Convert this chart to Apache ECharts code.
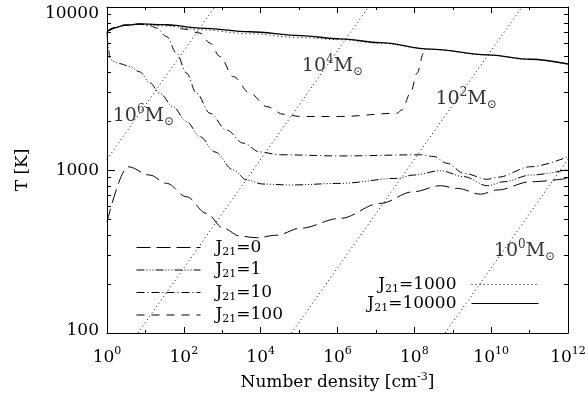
<!DOCTYPE html>
<html>
<head>
<meta charset="utf-8">
<script src="https://cdn.jsdelivr.net/npm/echarts@6/dist/echarts.min.js"></script>
<style>
html, body { margin: 0; padding: 0; background: #fff; }
#chart { width: 588px; height: 397px; }
</style>
</head>
<body>
<div id="chart"></div>
<script>
// [number density (cm^-3), T (K)]
const j0 = [
  [1, 479], [3.53, 1047], [13, 931], [35.5, 828], [118, 685], [390, 542],
  [1070, 439], [2900, 393], [7900, 384], [2.6e4, 398], [1.07e5, 439],
  [1.18e6, 505], [1.29e7, 624], [9.5e7, 736], [4.8e8, 801], [1.32e9, 771],
  [5.3e9, 711], [1.45e10, 754], [1.07e11, 847], [1e12, 889],
];
const j1 = [
  [1, 7080], [1.07, 5860], [1.18, 4880], [1.44, 4630], [2.15, 4490], [3.9, 4320],
  [7.1, 4000], [13, 3430], [23.7, 2960], [52, 2450], [118, 1980], [263, 1600],
  [646, 1290], [1950, 1000], [4370, 868], [1.15e4, 820], [5.9e4, 809],
  [1.18e6, 828], [3.55e7, 889], [9.5e7, 931], [4.8e8, 990], [1.95e9, 910],
  [7.9e9, 801], [2.15e10, 847], [1.07e11, 931], [1e12, 1009],
];
const j10 = [
  [1, 7080], [2.9, 7730], [7.1, 7850], [13, 7670], [19.5, 7430], [35.5, 6590],
  [64.6, 5210], [117, 3930], [214, 2960], [479, 2230], [1290, 1760],
  [3550, 1460], [9550, 1290], [3.24e4, 1240], [1.18e6, 1220], [1.45e8, 1240],
  [3.2e8, 1210], [7.1e8, 1100], [1.95e9, 955], [7.9e9, 877], [1.45e10, 902],
  [1.07e11, 1047], [1e12, 1208],
];
const j100 = [
  [1, 7080], [2.9, 7730], [7.1, 7850], [43, 7730], [96, 7330], [263, 6920],
  [479, 6010], [871, 4970], [1950, 3740], [5250, 2960], [1.44e4, 2450],
  [3.9e4, 2200], [1.07e5, 2130], [1.18e6, 2130], [3.55e7, 2230], [4.8e7, 2340],
  [7.9e7, 2960], [1.18e8, 3930], [1.74e8, 5210], [2.36e8, 5520],
];
const j1000 = [
  [1, 7080], [2.9, 7700], [7.1, 7800], [35.5, 7650], [263, 7250], [5250, 6850],
  [1.07e5, 6480], [1.18e6, 6300], [1.29e7, 6000], [2.6e8, 5500], [7.9e9, 5080],
  [1.07e11, 4770], [1e12, 4460],
];
const j10000 = [
  [1, 7080], [1.59, 7460], [2.9, 7730], [7.1, 7870], [35.5, 7790], [263, 7430],
  [5250, 7050], [1.07e5, 6670], [1.18e6, 6380], [1.29e7, 6040], [2.6e8, 5520],
  [7.9e9, 5090], [1.07e11, 4780], [1e12, 4470],
];

// constant Jeans-mass lines (end points)
const m6 = [[1, 1161], [638, 10000]];
const m4 = [[6.37, 100], [6.37e6, 10000]];
const m2 = [[6.35e4, 100], [6.35e10, 10000]];
const m0 = [[6.34e8, 100], [1e12, 1164]];
const massTags = [
  ['6', 1.41, 2148], ['4', 1.18e5, 4335], ['2', 3.55e8, 2723], ['0', 1.175e10, 317],
];

const xMajor = [1, 1e2, 1e4, 1e6, 1e8, 1e10, 1e12];
const xMinor = [1e1, 1e3, 1e5, 1e7, 1e9, 1e11];
const yMajor = [100, 1000, 10000];
const yMinor = [200, 300, 400, 500, 600, 700, 800, 900, 2000, 3000, 4000, 5000, 6000, 7000, 8000, 9000];

const FONT = 'DejaVu Serif';
const BLACK = '#000';

const chart = echarts.init(document.getElementById('chart'), null, { renderer: 'canvas' });

function tickAxis(pos, min, max, ticks, len, showLine) {
  return {
    type: 'log', logBase: 10, position: pos, min, max,
    axisLine: { show: showLine, onZero: false, lineStyle: { color: BLACK, width: 1 } },
    axisTick: { show: true, inside: true, length: len, customValues: ticks, lineStyle: { color: BLACK, width: 1 } },
    axisLabel: { show: false },
    splitLine: { show: false },
  };
}

const bottomX = tickAxis('bottom', 1, 1e12, xMajor, 6, true);
bottomX.axisLabel = {
  show: true,
  customValues: xMajor,
  margin: 13,
  formatter: (v) => '{b|10}{s|' + Math.round(Math.log10(v)) + '}',
  rich: {
    b: { fontFamily: FONT, fontSize: 17, color: BLACK, lineHeight: 24 },
    s: { fontFamily: FONT, fontSize: 11, color: BLACK, verticalAlign: 'top', lineHeight: 12 },
  },
};
bottomX.name = '{b|Number density [cm}{s|-3}{b|]}';
bottomX.nameLocation = 'middle';
bottomX.nameGap = 33;
bottomX.nameTextStyle = {
  rich: {
    b: { fontFamily: FONT, fontSize: 17, color: BLACK, lineHeight: 22 },
    s: { fontFamily: FONT, fontSize: 11, color: BLACK, verticalAlign: 'top', lineHeight: 12 },
  },
};

const leftY = tickAxis('left', 100, 10000, yMajor, 8, true);
leftY.axisLabel = {
  show: true,
  customValues: yMajor,
  margin: 8,
  formatter: (v) => {
    const r = Math.round(v);
    if (r >= 10000) return '{t|10000}';
    if (r >= 1000) return '{m|1000}';
    return '{l|100}';
  },
  rich: {
    t: { fontFamily: FONT, fontSize: 17, color: BLACK, padding: [14, 0, 0, 0] },
    m: { fontFamily: FONT, fontSize: 17, color: BLACK, padding: [2, 0, 0, 0] },
    l: { fontFamily: FONT, fontSize: 17, color: BLACK, padding: [0, 0, 4, 0] },
  },
};
leftY.name = 'T [K]';
leftY.nameLocation = 'middle';
leftY.nameRotate = 90;
leftY.nameGap = 76;
leftY.nameTextStyle = { fontFamily: FONT, fontSize: 17, color: BLACK };

function lineSeries(name, data, type, width) {
  return {
    name, type: 'line', data, symbol: 'none', smooth: 0.35, smoothMonotone: 'x',
    lineStyle: { color: BLACK, width: width || 1, type },
    itemStyle: { color: BLACK },
    silent: true, z: 3,
  };
}
function massSeries(data) {
  return {
    type: 'line', data, symbol: 'none',
    lineStyle: { color: BLACK, width: 1, type: [1, 3] },
    silent: true, z: 2,
  };
}

const legendRich = {
  j: { fontFamily: FONT, fontSize: 17, color: BLACK, lineHeight: 20 },
  s: { fontFamily: FONT, fontSize: 11, color: BLACK, verticalAlign: 'bottom', lineHeight: 12 },
};
const legendFmt = (name) => '{j|J}{s|21}{j|' + name.slice(3) + '}';
// hide the marker dot, keep the line sample
const legendDot = { opacity: 0, borderWidth: 0 };
const legendLine = { width: 1 };

function rightLegend(name, top) {
  return {
    data: [name], orient: 'vertical', align: 'right', right: 49, top,
    itemStyle: legendDot, lineStyle: legendLine,
    itemWidth: 67, itemHeight: 14, padding: 0, selectedMode: false,
    formatter: legendFmt,
    textStyle: { rich: legendRich, padding: [0, 10, 0, 0] },
  };
}

chart.setOption({
  backgroundColor: '#fff',
  animation: false,
  textStyle: { fontFamily: FONT },
  grid: { left: 107, right: 20, top: 7, bottom: 64, containLabel: false, outerBoundsMode: 'none' },
  xAxis: [
    bottomX,
    tickAxis('bottom', 1, 1e12, xMinor, 3, false),
    tickAxis('top', 1, 1e12, xMajor, 6, true),
    tickAxis('top', 1, 1e12, xMinor, 3, false),
  ],
  yAxis: [
    leftY,
    tickAxis('left', 100, 10000, yMinor, 4, false),
    tickAxis('right', 100, 10000, yMajor, 8, true),
    tickAxis('right', 100, 10000, yMinor, 4, false),
  ],
  legend: [
    {
      data: ['J21=0', 'J21=1', 'J21=10', 'J21=100'],
      orient: 'vertical', left: 136, top: 239,
      itemStyle: legendDot, lineStyle: legendLine,
      itemWidth: 64, itemHeight: 14, itemGap: 4, padding: 0, selectedMode: false,
      formatter: legendFmt,
      textStyle: { rich: legendRich, padding: [0, 0, 0, 10] },
    },
    rightLegend('J21=1000', 276),
    rightLegend('J21=10000', 295),
  ],
  series: [
    lineSeries('J21=0', j0, [14, 6]),
    lineSeries('J21=1', j1, [8, 2, 1, 2, 1, 2, 1, 2]),
    lineSeries('J21=10', j10, [8, 3, 1, 3]),
    lineSeries('J21=100', j100, [8, 7]),
    lineSeries('J21=1000', j1000, [1, 3]),
    lineSeries('J21=10000', j10000, 'solid', 1.3),
    massSeries(m6),
    massSeries(m4),
    massSeries(m2),
    massSeries(m0),
    {
      type: 'scatter', symbolSize: 0, silent: true, z: 4,
      data: massTags.map((d) => ({ value: [d[1], d[2]], exp: d[0] })),
      label: {
        show: true, position: 'right', distance: 0,
        formatter: (p) => '{b|10}{s|' + p.data.exp + '}{b|M}{o|⊙}',
        rich: {
          b: { fontFamily: FONT, fontSize: 19, color: BLACK, lineHeight: 24 },
          s: { fontFamily: FONT, fontSize: 12, color: BLACK, verticalAlign: 'top', lineHeight: 13 },
          o: { fontFamily: FONT, fontSize: 12, color: BLACK, verticalAlign: 'bottom', lineHeight: 14 },
        },
      },
    },
  ],
});
</script>
</body>
</html>
